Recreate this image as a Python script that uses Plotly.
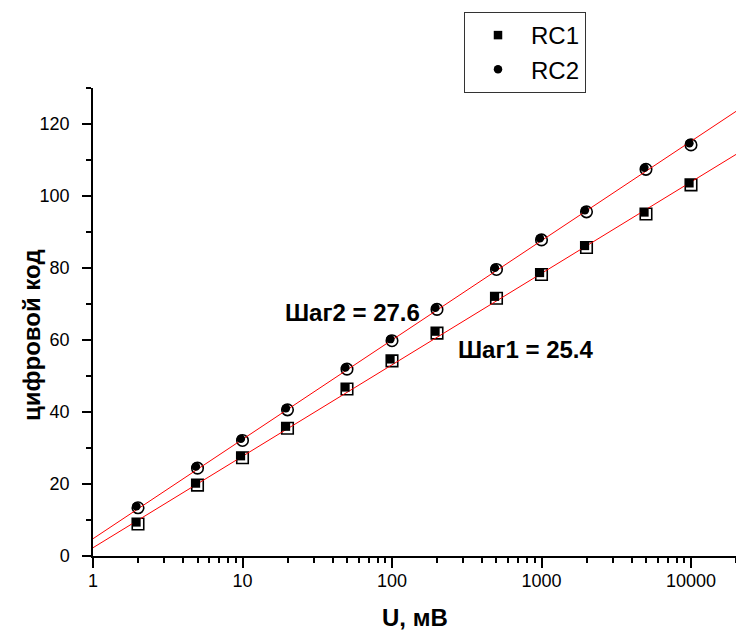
import numpy as np
import plotly.graph_objects as go

# Input voltage, mV (log scale)
u_mv = [2, 5, 10, 20, 50, 100, 200, 500, 1000, 2000, 5000, 10000]
# Digital code read for each channel
rc1 = [8.9, 19.7, 27.3, 35.5, 46.4, 54.2, 61.9, 71.6, 78.2, 85.7, 95.0, 103.1]
rc2 = [13.4, 24.4, 32.1, 40.6, 51.9, 59.8, 68.5, 79.6, 87.8, 95.6, 107.4, 114.2]

# Linear fits in log10(U): code = b + step * log10(U)
step1, icpt1 = 25.4, 2.3
step2, icpt2 = 27.6, 4.8

x_lo, x_hi = 1, 20000
y_lo, y_hi = 0, 130

FONT = "Liberation Sans, Arial, sans-serif"
W, H = 736, 634
M_L, M_R, M_T, M_B = 93, 0, 88, 78
plot_w = W - M_L - M_R
plot_h = H - M_T - M_B


def px_x(px):
    return (px - M_L) / plot_w


def px_y(px):
    return (M_T + plot_h - px) / plot_h


# small up-left nudge (in axis units) for the dark half of the half-filled symbols
nudge_px = 1.6
dx = nudge_px * (np.log10(x_hi) - np.log10(x_lo)) / plot_w
dy = nudge_px * (y_hi - y_lo) / plot_h

fig = go.Figure()


def add_series(name, xs, ys, sym):
    # outlined white symbol
    fig.add_trace(go.Scatter(
        x=xs, y=ys, mode="markers", showlegend=False, hoverinfo="skip",
        marker=dict(symbol=sym, size=11.5, color="white",
                    line=dict(color="black", width=1.6)),
    ))
    # dark fill, shifted slightly up-left
    fig.add_trace(go.Scatter(
        x=xs, y=ys, mode="markers", name=name, xaxis="x2", yaxis="y2",
        marker=dict(symbol=sym, size=8.5, color="black",
                    line=dict(width=0)),
    ))


add_series("RC1", u_mv, rc1, "square")
add_series("RC2", u_mv, rc2, "circle")

fx = np.array([x_lo, x_hi], dtype=float)
for step, icpt in [(step1, icpt1), (step2, icpt2)]:
    fig.add_trace(go.Scatter(
        x=fx, y=icpt + step * np.log10(fx), mode="lines", showlegend=False,
        line=dict(color="#ff0000", width=1), hoverinfo="skip",
    ))

axis_common = dict(
    showline=True, linecolor="black", linewidth=1.5, mirror=False,
    ticks="outside", tickcolor="black", tickwidth=1.5, showgrid=False,
    zeroline=False, tickfont=dict(family=FONT, size=18, color="black"),
)

label_font = dict(family=FONT, size=24, color="black")

fig.update_layout(
    width=W, height=H,
    margin=dict(l=M_L, r=M_R, t=M_T, b=M_B),
    paper_bgcolor="white", plot_bgcolor="white",
    font=dict(family=FONT, color="black"),
    xaxis=dict(
        type="log", range=[np.log10(x_lo), np.log10(x_hi)],
        tickvals=[1, 10, 100, 1000, 10000],
        ticktext=["1", "10", "100", "1000", "10000"],
        ticklen=10, ticklabelstandoff=-2,
        minor=dict(dtick="D1", ticks="outside", ticklen=5, tickwidth=1.5,
                   tickcolor="black", showgrid=False),
        **axis_common,
    ),
    yaxis=dict(
        range=[y_lo, y_hi], dtick=20, tick0=0, ticklen=9, ticklabelstandoff=9,
        minor=dict(dtick=10, ticks="outside", ticklen=5, tickwidth=1.5,
                   tickcolor="black", showgrid=False),
        **axis_common,
    ),
    xaxis2=dict(
        type="log", overlaying="x", visible=False,
        range=[np.log10(x_lo) + dx, np.log10(x_hi) + dx],
    ),
    yaxis2=dict(
        overlaying="y", visible=False,
        range=[y_lo - dy, y_hi - dy],
    ),
    legend=dict(
        x=px_x(464), y=px_y(12),
        xanchor="left", yanchor="top",
        bordercolor="#333333", borderwidth=1, bgcolor="white",
        font=dict(family=FONT, size=24, color="black"),
        itemwidth=56, tracegroupgap=0,
    ),
    annotations=[
        dict(text="<b>U, мВ</b>", xref="paper", yref="paper",
             x=px_x(415), y=px_y(617), xanchor="center", yanchor="middle",
             showarrow=False, font=label_font),
        dict(text="<b>цифровой код</b>", xref="paper", yref="paper",
             x=px_x(31), y=px_y(335), xanchor="center", yanchor="middle",
             textangle=-90, showarrow=False, font=label_font),
        dict(text=f"<b>Шаг2 = {step2}</b>", xref="paper", yref="paper",
             x=px_x(352.5), y=px_y(312), xanchor="center", yanchor="middle",
             showarrow=False, font=label_font),
        dict(text=f"<b>Шаг1 = {step1}</b>", xref="paper", yref="paper",
             x=px_x(525.5), y=px_y(349), xanchor="center", yanchor="middle",
             showarrow=False, font=label_font),
    ],
)

fig.write_html("out.html")
